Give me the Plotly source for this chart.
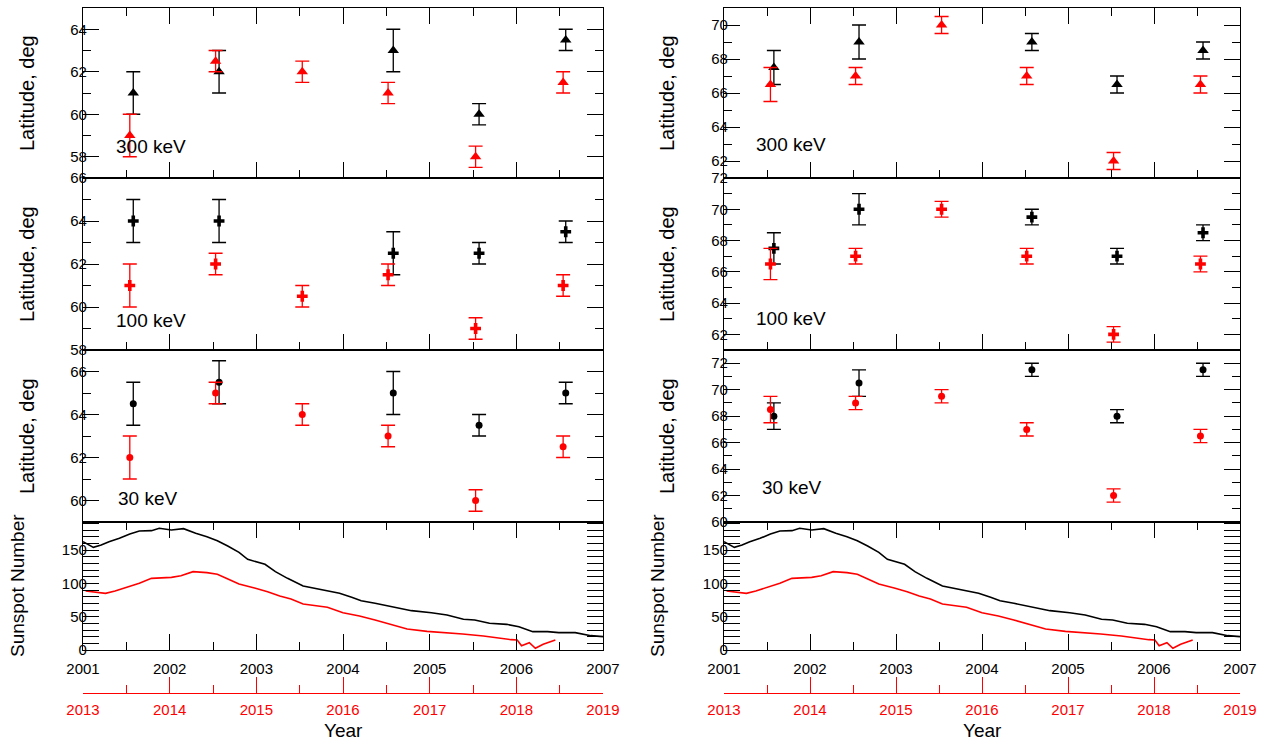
import plotly.graph_objects as go

# ---------------- data ----------------
# x positions of latitude measurements
black_years = [2001.58, 2002.57, 2004.58, 2005.57, 2006.57]
red_years = [2013.54, 2014.53, 2015.53, 2016.52, 2017.53, 2018.54]

# left column
L300_black = [61.0, 62.0, 63.0, 60.0, 63.5]
L300_black_err = [1.0, 1.0, 1.0, 0.5, 0.5]
L300_red = [59.0, 62.5, 62.0, 61.0, 58.0, 61.5]
L300_red_err = [1.0, 0.5, 0.5, 0.5, 0.5, 0.5]

L100_black = [64.0, 64.0, 62.5, 62.5, 63.5]
L100_black_err = [1.0, 1.0, 1.0, 0.5, 0.5]
L100_red = [61.0, 62.0, 60.5, 61.5, 59.0, 61.0]
L100_red_err = [1.0, 0.5, 0.5, 0.5, 0.5, 0.5]

L30_black = [64.5, 65.5, 65.0, 63.5, 65.0]
L30_black_err = [1.0, 1.0, 1.0, 0.5, 0.5]
L30_red = [62.0, 65.0, 64.0, 63.0, 60.0, 62.5]
L30_red_err = [1.0, 0.5, 0.5, 0.5, 0.5, 0.5]

# right column
R300_black = [67.5, 69.0, 69.0, 66.5, 68.5]
R300_black_err = [1.0, 1.0, 0.5, 0.5, 0.5]
R300_red = [66.5, 67.0, 70.0, 67.0, 62.0, 66.5]
R300_red_err = [1.0, 0.5, 0.5, 0.5, 0.5, 0.5]

R100_black = [67.5, 70.0, 69.5, 67.0, 68.5]
R100_black_err = [1.0, 1.0, 0.5, 0.5, 0.5]
R100_red = [66.5, 67.0, 70.0, 67.0, 62.0, 66.5]
R100_red_err = [1.0, 0.5, 0.5, 0.5, 0.5, 0.5]

R30_black = [68.0, 70.5, 71.5, 68.0, 71.5]
R30_black_err = [1.0, 1.0, 0.5, 0.5, 0.5]
R30_red = [68.5, 69.0, 69.5, 67.0, 62.0, 66.5]
R30_red_err = [1.0, 0.5, 0.5, 0.5, 0.5, 0.5]

# sunspot numbers
ssn_black_years = [2001.00, 2001.12, 2001.21, 2001.30, 2001.42, 2001.54, 2001.65, 2001.79,
                   2001.88, 2002.02, 2002.16, 2002.30, 2002.43, 2002.55, 2002.67, 2002.80,
                   2002.90, 2003.00, 2003.10, 2003.22, 2003.36, 2003.54, 2003.68, 2003.82,
                   2003.96, 2004.10, 2004.21, 2004.37, 2004.56, 2004.79, 2005.02, 2005.20,
                   2005.39, 2005.52, 2005.69, 2005.89, 2006.03, 2006.19, 2006.36, 2006.49,
                   2006.68, 2006.86, 2007.00]
ssn_black = [162.5, 154, 157.5, 162.5, 167.5, 174, 178.5, 179, 182.5, 180, 182, 175, 170,
             164, 156, 146.5, 136, 132.5, 128.5, 117.5, 107.5, 96, 92.5, 88.5, 85, 79, 74,
             70, 65, 59, 56, 52.5, 46, 45, 40, 38.5, 35, 27.5, 27.5, 26, 26, 21.5, 20]

ssn_red_years = [2013.03, 2013.14, 2013.26, 2013.37, 2013.51, 2013.65, 2013.79, 2013.88,
                 2014.02, 2014.13, 2014.27, 2014.43, 2014.55, 2014.64, 2014.80, 2014.99,
                 2015.13, 2015.27, 2015.40, 2015.54, 2015.70, 2015.82, 2016.00, 2016.19,
                 2016.37, 2016.56, 2016.74, 2016.97, 2017.20, 2017.38, 2017.62, 2017.80,
                 2017.94, 2018.01, 2018.06, 2018.15, 2018.22, 2018.31, 2018.45]
ssn_red = [88.5, 87, 85, 88.5, 94, 100, 107.5, 108.5, 109, 111.5, 117.5, 116, 113.5, 108.5,
           99, 92.5, 87.5, 81, 76.5, 69, 66, 64, 56, 51, 45, 37.5, 31.5, 28, 26, 24, 21,
           17.5, 15.5, 15, 6.5, 11, 2.5, 8.5, 15]

black_axis_range = [2001, 2007]
red_axis_range = [2013, 2019]
year_offset = red_axis_range[0] - black_axis_range[0]

energy_labels = ["300 keV", "100 keV", "30 keV"]
lat_ranges_left = [[57, 65], [58, 66], [59, 67]]
lat_ranges_right = [[61, 71], [61, 72], [60, 73]]
ssn_range = [0, 192]

# ---------------- layout helpers ----------------
W, H = 1269, 744
RED = "#ff0000"
FONT = "Liberation Sans, Arial, sans-serif"
col_px = [(83, 603), (724, 1240)]
row_px = [(8, 178), (178, 350), (350, 522), (522, 650)]
red_axis_px = 693
LW = 1.3
Y_STANDOFF = -8

def xd(c):
    return [col_px[c][0] / W, col_px[c][1] / W]

def yd(r):
    return [1 - row_px[r][1] / H, 1 - row_px[r][0] / H]

fig = go.Figure()
layout = dict(
    template="none",
    width=W, height=H, margin=dict(l=0, r=0, t=0, b=0, pad=0),
    paper_bgcolor="white", plot_bgcolor="rgba(0,0,0,0)", showlegend=False,
    font=dict(family=FONT, size=15, color="black"),
)

markers = ["triangle-up", "cross", "circle"]
msizes = [10, 9, 7]
columns = [
    [(L300_black, L300_black_err, L300_red, L300_red_err),
     (L100_black, L100_black_err, L100_red, L100_red_err),
     (L30_black, L30_black_err, L30_red, L30_red_err)],
    [(R300_black, R300_black_err, R300_red, R300_red_err),
     (R100_black, R100_black_err, R100_red, R100_red_err),
     (R30_black, R30_black_err, R30_red, R30_red_err)],
]
lat_ranges = [lat_ranges_left, lat_ranges_right]

annotations = []
idx = 0
for c in range(2):
    for r in range(4):
        idx += 1
        xa, ya = f"xaxis{idx}", f"yaxis{idx}"
        xref, yref = f"x{idx}", f"y{idx}"
        common_x = dict(domain=xd(c), anchor=yref, range=black_axis_range,
                        automargin=False,
                        showgrid=False, zeroline=False, showline=True,
                        linecolor="black", linewidth=LW, tickcolor="black",
                        tickwidth=LW, dtick=1, tick0=2001, ticklen=16,
                        minor=dict(dtick=0.5, ticklen=8, tickcolor="black",
                                   tickwidth=LW, ticks="inside", showgrid=False))
        if r == 0:
            common_x.update(ticks="inside", mirror="allticks", showticklabels=False)
        elif r == 1:
            common_x.update(ticks="inside", mirror=True, showticklabels=False)
        elif r == 2:
            common_x.update(ticks="", mirror=True, showticklabels=False)
            common_x["minor"] = dict(ticks="", showgrid=False)
        else:
            common_x.update(ticks="inside", mirror="allticks", showticklabels=True,
                            ticklabelstandoff=5,
                            tickfont=dict(size=15, color="black", family=FONT))
        layout[xa] = common_x

        if r < 3:
            yr = lat_ranges[c][r]
            layout[ya] = dict(domain=yd(r), anchor=xref, range=yr, showgrid=False,
                              automargin=False, ticklabelstandoff=Y_STANDOFF,
                              zeroline=False, showline=True, mirror="allticks",
                              linecolor="black", linewidth=LW, ticks="inside",
                              ticklen=16, tickwidth=LW, tickcolor="black",
                              dtick=2, tick0=0,
                              minor=dict(dtick=1, ticklen=8, ticks="inside",
                                         tickcolor="black", tickwidth=LW,
                                         showgrid=False),
                              tickfont=dict(size=15, color="black", family=FONT))
            bvals, berr, rvals, rerr = columns[c][r]
            fig.add_trace(go.Scatter(
                x=black_years, y=bvals, mode="markers", xaxis=xref, yaxis=yref,
                marker=dict(symbol=markers[r], size=msizes[r], color="black"),
                error_y=dict(type="data", array=berr, color="black",
                             thickness=1.3, width=7)))
            fig.add_trace(go.Scatter(
                x=[v - year_offset for v in red_years], y=rvals, mode="markers",
                xaxis=xref, yaxis=yref,
                marker=dict(symbol=markers[r], size=msizes[r], color=RED),
                error_y=dict(type="data", array=rerr, color=RED,
                             thickness=1.3, width=7)))
            ymid = (row_px[r][0] + row_px[r][1]) / 2
            annotations.append(dict(
                text="Latitude, deg", textangle=-90, xref="paper", yref="paper",
                x=(27 if c == 0 else 667) / W, y=1 - ymid / H, showarrow=False,
                font=dict(size=20, family=FONT, color="black"),
                xanchor="center", yanchor="middle"))
        else:
            layout[ya] = dict(domain=yd(r), anchor=xref, range=ssn_range, showgrid=False,
                              automargin=False, ticklabelstandoff=Y_STANDOFF,
                              zeroline=False, showline=True, mirror="allticks",
                              linecolor="black", linewidth=LW, ticks="inside",
                              ticklen=16, tickwidth=LW, tickcolor="black",
                              dtick=50, tick0=0,
                              minor=dict(dtick=10, ticklen=8, ticks="inside",
                                         tickcolor="black", tickwidth=LW,
                                         showgrid=False),
                              tickfont=dict(size=15, color="black", family=FONT))
            fig.add_trace(go.Scatter(
                x=ssn_black_years, y=ssn_black, mode="lines", xaxis=xref, yaxis=yref,
                line=dict(color="black", width=1.6)))
            red_idx = 8 + c + 1
            layout[f"xaxis{red_idx}"] = dict(
                overlaying=xref, anchor="free", position=1 - red_axis_px / H,
                automargin=False, ticklabelstandoff=3,
                side="bottom", range=red_axis_range, showgrid=False, zeroline=False,
                showline=True, linecolor=RED, linewidth=LW, ticks="inside",
                tickcolor=RED, tickwidth=LW, dtick=1, tick0=2013, ticklen=16,
                minor=dict(dtick=0.5, ticklen=8, ticks="inside", tickcolor=RED,
                           tickwidth=LW, showgrid=False),
                tickfont=dict(size=15, color=RED, family=FONT))
            fig.add_trace(go.Scatter(
                x=ssn_red_years, y=ssn_red, mode="lines", xaxis=f"x{red_idx}",
                yaxis=yref, line=dict(color=RED, width=1.6)))
            ymid = (row_px[r][0] + row_px[r][1]) / 2
            annotations.append(dict(
                text="Sunspot Number", textangle=-90, xref="paper", yref="paper",
                x=(17 if c == 0 else 657) / W, y=1 - ymid / H, showarrow=False,
                font=dict(size=19, family=FONT, color="black"),
                xanchor="center", yanchor="middle"))
            annotations.append(dict(
                text="Year", xref="paper", yref="paper",
                x=(col_px[c][0] + col_px[c][1]) / 2 / W, y=1 - 730 / H,
                showarrow=False, font=dict(size=19, family=FONT, color="black"),
                xanchor="center", yanchor="middle"))

# energy labels inside panels
label_pos = {
    (0, 0): (114, 146), (0, 1): (114, 320), (0, 2): (116, 499),
    (1, 0): (754, 145), (1, 1): (754, 318), (1, 2): (760, 487),
}
for (c, r), (px, py) in label_pos.items():
    annotations.append(dict(
        text=energy_labels[r], xref="paper", yref="paper", x=px / W, y=1 - py / H,
        showarrow=False, xanchor="left", yanchor="middle",
        font=dict(size=19, family=FONT, color="black")))

layout["annotations"] = annotations
fig.update_layout(**layout)
fig.write_html(
    "out.html",
    config={"displayModeBar": False},
    post_script="document.body.style.margin='0';document.body.style.overflow='hidden';",
)
